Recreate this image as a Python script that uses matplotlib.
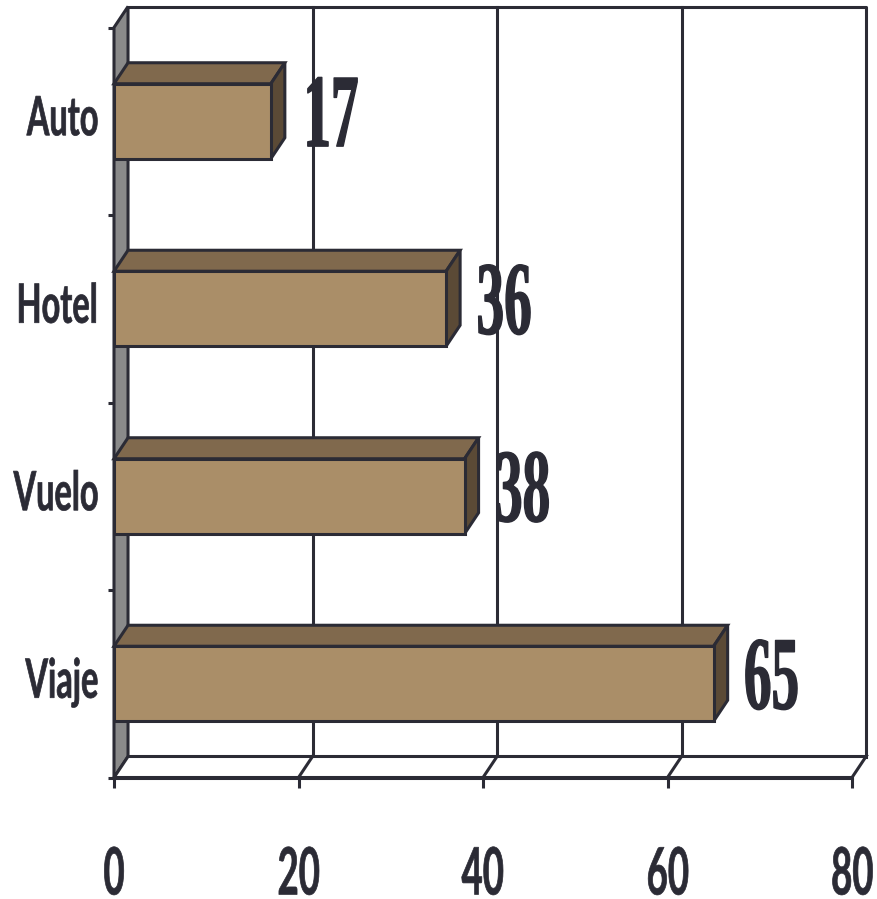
import matplotlib
matplotlib.use('Agg')
import matplotlib.pyplot as plt
from matplotlib import patheffects
from matplotlib.transforms import Affine2D

categorias = ['Viaje', 'Vuelo', 'Hotel', 'Auto']
valores = [65, 38, 36, 17]
ticks_x = [0, 20, 40, 60, 80]

oscuro = '#2b2b35'
cara = '#aa8e68'
techo = '#80694d'
lado = '#5b4a36'
pared = '#8a8a8a'

# profundidad del efecto 3D en unidades de datos
dx, dy = 1.52, 0.112
alto = 0.40
lw = 2.2


class Estrecho(patheffects.AbstractPathEffect):
    """Comprime el texto en horizontal (letra condensada) y engrosa el trazo."""

    def __init__(self, sx, ancla='center', grosor=0.0, sube=0.0):
        super().__init__()
        self.sx = sx
        self.ancla = ancla
        self.grosor = grosor
        self.sube = sube

    def draw_path(self, renderer, gc, tpath, affine, rgbFace=None):
        ext = tpath.get_extents()
        x0 = {'left': ext.x0, 'center': (ext.x0 + ext.x1) / 2, 'right': ext.x1}[self.ancla]
        t = (Affine2D().translate(-x0, 0).scale(self.sx, 1).translate(x0, 0)
             + affine + Affine2D().translate(0, self.sube))
        gc0 = renderer.new_gc()
        gc0.copy_properties(gc)
        if self.grosor > 0:
            gc0.set_linewidth(self.grosor)
            gc0.set_foreground(rgbFace)
            gc0.set_joinstyle('round')
        renderer.draw_path(gc0, tpath, t, rgbFace)
        gc0.restore()


fig = plt.figure(figsize=(8.78, 8.99), dpi=100)
ax = fig.add_axes([114 / 878, 121.5 / 899, 738 / 878, 750 / 899])
ax.set_xlim(0, 80)
ax.set_ylim(-0.5, 3.5)
for s in ax.spines.values():
    s.set_visible(False)

x_max = ticks_x[-1]
y0, y1 = -0.5, len(categorias) - 0.5

# pared del fondo
ax.fill([dx, x_max + dx, x_max + dx, dx], [y0 + dy, y0 + dy, y1 + dy, y1 + dy],
        color='white', zorder=1, clip_on=False)
ax.plot([dx, x_max + dx, x_max + dx], [y1 + dy, y1 + dy, y0 + dy],
        color=oscuro, lw=lw, zorder=2, clip_on=False)
for t in ticks_x[1:-1]:
    ax.plot([t + dx, t + dx], [y0 + dy, y1 + dy], color=oscuro, lw=lw, zorder=2, clip_on=False)

# pared izquierda
ax.fill([0, 0, dx, dx], [y0, y1, y1 + dy, y0 + dy], facecolor=pared,
        edgecolor=oscuro, lw=lw, zorder=2, clip_on=False)

# suelo
ax.fill([0, x_max, x_max + dx, dx], [y0, y0, y0 + dy, y0 + dy], facecolor='white',
        edgecolor=oscuro, lw=lw, zorder=2, clip_on=False)
for t in ticks_x[1:-1]:
    ax.plot([t, t + dx], [y0, y0 + dy], color=oscuro, lw=lw, zorder=2, clip_on=False)

# barras
pos = list(range(len(categorias)))
ax.barh(pos, valores, height=alto, color=cara, edgecolor=oscuro, lw=lw, zorder=4)
for c, v in zip(pos, valores):
    arriba = c + alto / 2
    abajo = c - alto / 2
    ax.fill([0, v, v + dx, dx], [arriba, arriba, arriba + dy, arriba + dy],
            facecolor=techo, edgecolor=oscuro, lw=lw, zorder=3, clip_on=False)
    ax.fill([v, v, v + dx, v + dx], [abajo, arriba, arriba + dy, abajo + dy],
            facecolor=lado, edgecolor=oscuro, lw=lw, zorder=3, clip_on=False)
    # etiqueta de valor, bajo las líneas de la pared del fondo
    ax.annotate(str(v), xy=(v + dx, c + dy / 2), xytext=(10.5, -25.5),
                textcoords='offset points', ha='left', va='baseline', fontsize=75,
                fontweight='bold', family=['Liberation Serif', 'DejaVu Serif'],
                color=oscuro, zorder=1.5,
                path_effects=[Estrecho(0.53, 'left', grosor=1.0)])

# ejes
ax.set_xticks(ticks_x)
ax.set_xticklabels([str(t) for t in ticks_x], fontsize=47, fontweight='bold',
                   family=['Lato', 'DejaVu Sans'], color=oscuro)
ax.tick_params(axis='x', length=7.2, width=lw, color=oscuro, pad=41)
for lab in ax.get_xticklabels():
    lab.set_path_effects([Estrecho(0.56, 'center', grosor=0.5, sube=-2)])

ax.set_yticks(pos)
ax.set_yticklabels(categorias, fontsize=39, fontweight='bold',
                   family=['Lato', 'DejaVu Sans'], color=oscuro)
ax.set_yticks([y0 + k for k in range(len(categorias) + 1)], minor=True)
ax.tick_params(axis='y', which='major', length=0, pad=10.8)
ax.tick_params(axis='y', which='minor', length=4.3, width=lw, color=oscuro)
for lab in ax.get_yticklabels():
    lab.set_path_effects([Estrecho(0.6, 'right', grosor=0.5, sube=6)])

# línea frontal del suelo
ax.plot([0, x_max], [y0, y0], color=oscuro, lw=lw, zorder=5, clip_on=False)

fig.savefig('out.png', dpi=100)
